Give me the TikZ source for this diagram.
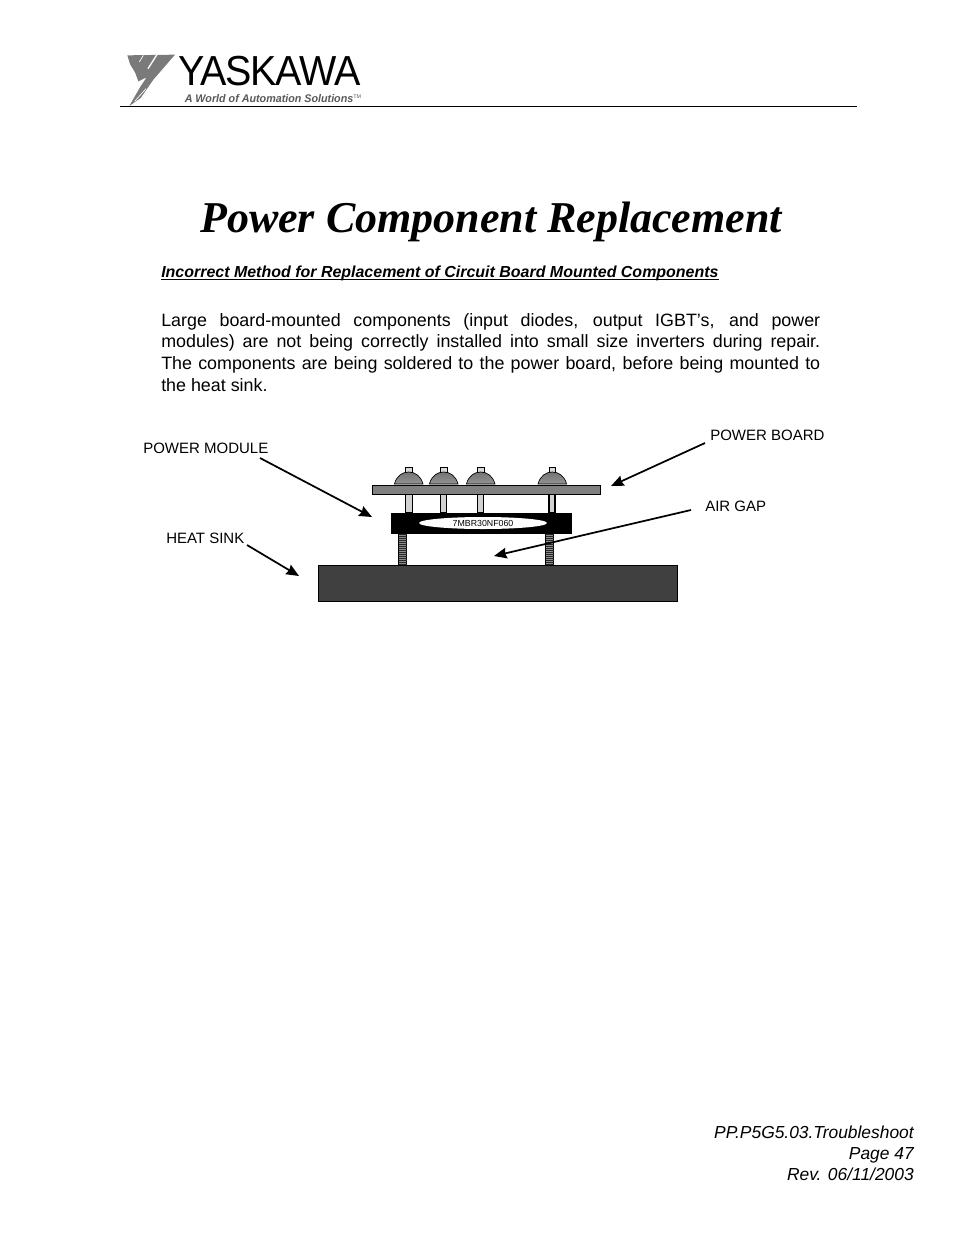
\documentclass[tikz,border=0pt]{standalone}
\usepackage{graphicx}
\usepackage{fontspec}
\setmainfont{Liberation Sans}
\newfontfamily\titlefont{Liberation Serif}
\usetikzlibrary{arrows.meta,shapes.geometric}
\tikzset{
  x=0.75pt,y=-0.75pt,
  lbl/.style={inner sep=0pt,anchor=base west,font=\fontsize{11.25}{13}\selectfont},
  callout/.style={draw=black,line width=1.3pt,-{Stealth[length=9.5pt,width=8pt,inset=1pt]},shorten >=0pt},
  pin/.style={draw=black,line width=0.9pt,fill=black!18},
  dome/.style={draw=black,line width=0.5pt,top color=black!55,bottom color=black!42},
  tab/.style={draw=black,line width=0.6pt,fill=black!15},
  logo/.style={fill=black!52,draw=none},
  foot/.style={inner sep=0pt,anchor=base east,font=\fontsize{13.05}{15}\selectfont\itshape},
}
\begin{document}
\begin{tikzpicture}
\useasboundingbox[fill=white] (0,0) rectangle (954,1235);
% header
\coordinate (ruleL) at (120,106.5);
\coordinate (ruleR) at (857,106.5);
\draw[line width=0.75pt] (ruleL) -- (ruleR);
% logo symbol
\begin{scope}[shift={(120,48)},x=0.25pt,y=-0.25pt]
\fill[logo] (22,22) -- (165,20) -- (100,95) -- (62,150) -- (28,174) -- (60,118) -- (80,88) -- (55,100) -- (46,75) -- (30,48) -- cycle;
\draw[white,line width=1pt] (112,18) -- (84,62);
\draw[white,line width=0.5pt] (70,22) -- (58,42);
\draw[white,line width=0.5pt] (78,122) -- (44,160);
\end{scope}
\node[inner sep=0pt,anchor=base west,font=\fontsize{31.5}{33}\selectfont] (brand) at (178,85) {\scalebox{0.94}[1]{\addfontfeature{LetterSpace=-3}YASKAWA}};
\node[inner sep=0pt,anchor=base west,text=black!65,font=\fontsize{8.3}{10}\selectfont\bfseries\itshape] (slogan) at (184.5,102.5) {\scalebox{0.97}[1]{A World of Automation Solutions}\raisebox{3pt}{\fontsize{4}{4}\selectfont\mdseries\upshape TM}};
% title
\node[inner sep=0pt,anchor=base,font=\titlefont\fontsize{33}{36}\selectfont\bfseries\itshape] (title) at (491,232) {Power Component Replacement};
\node[inner sep=0pt,anchor=base west,font=\fontsize{11.98}{14}\selectfont\bfseries\itshape] (sub) at (161,277) {Incorrect Method for Replacement of Circuit Board Mounted Components};
\draw[line width=0.8pt] ([yshift=-2pt]sub.base west) -- ([yshift=-2pt]sub.base east);
\node[inner sep=0pt,anchor=north west,text width=494.25pt,align=justify,font=\fontsize{13.4}{16.2}\selectfont] (para) at (161,313) {Large board-mounted components (input diodes, output IGBT’s, and power\linebreak modules) are not being correctly installed into small size inverters during repair.\linebreak The components are being soldered to the power board, before being mounted to\linebreak the heat sink.};
% labels
\node[lbl] (lmod) at (143,453) {POWER MODULE};
\node[lbl] (lboard) at (710,440) {POWER BOARD};
\node[lbl] (lgap) at (705,511) {AIR GAP};
\node[lbl] (lsink) at (166,543) {HEAT SINK};
% heat sink
\node[draw=black,line width=0.7pt,fill=black!75,minimum width=269pt,minimum height=27pt,inner sep=0pt,anchor=north west] (sink) at (318,565) {};
% screws
\foreach \sx/\nm in {398.5/a,545.5/b}{
  \fill[black!45] (\sx,533) rectangle +(8,32);
  \draw[line width=0.3pt] (\sx,533) -- +(0,32) (\sx+8,533) -- +(0,32);
  \foreach \yy in {534,536,...,564}{
    \draw[line width=0.55pt,black!85] (\sx,\yy) -- +(8,0);
  }
}
% pins
\foreach \px/\pw in {405.7/7,440.5/6,477.5/6,549/6}{
  \draw[pin] (\px,493) rectangle +(\pw,20);
}
% module
\node[fill=black,draw=black,minimum width=135pt,minimum height=15pt,inner sep=0pt,anchor=north west] (module) at (391,513) {};
\node[ellipse,fill=white,minimum width=96pt,minimum height=9pt,inner sep=0pt] (oval) at (483,523) {};
\node[inner sep=0pt,font=\fontsize{6.6}{7}\selectfont] (partno) at (483,523.5) {7MBR30NF060};
% domes
\foreach \dx in {408.7,443.7,480.7,552.3}{
  \draw[tab] (\dx-3.4,467.3) rectangle (\dx+3.4,472.5);
  \draw[dome] (\dx-14.3,484) .. controls (\dx-12,475.5) and (\dx-6,472) .. (\dx,472) .. controls (\dx+6,472) and (\dx+12,475.5) .. (\dx+14.3,484) -- cycle;
}
% board
\node[draw=black,line width=0.9pt,fill=black!50,minimum width=171pt,minimum height=7pt,inner sep=0pt,anchor=north west] (board) at (372,484.5) {};
% callouts
\coordinate (c1a) at (260,458); \coordinate (c1b) at (372,517);
\coordinate (c2a) at (705,443); \coordinate (c2b) at (611,486);
\coordinate (c3a) at (691,510); \coordinate (c3b) at (494,556);
\coordinate (c4a) at (247,545); \coordinate (c4b) at (299,576);
\draw[callout] (c1a) -- (c1b);
\draw[callout] (c2a) -- (c2b);
\draw[callout] (c3a) -- (c3b);
\draw[callout] (c4a) -- (c4b);
% footer
\node[foot] (f1) at (914,1138) {PP.P5G5.03.Troubleshoot};
\node[foot] (f2) at (914,1159) {Page 47};
\node[foot] (f3) at (914,1180) {Rev. 06/11/2003};
\end{tikzpicture}
\end{document}
